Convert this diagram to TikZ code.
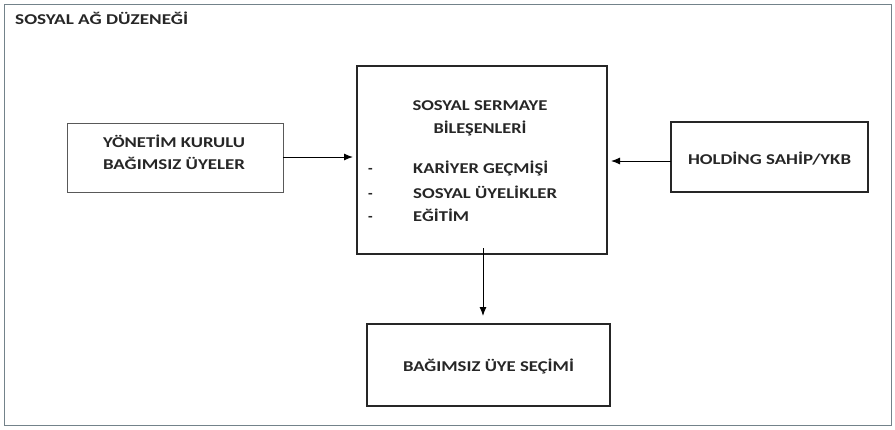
\documentclass[tikz,border=0pt]{standalone}
\usepackage{graphicx}
\usepackage{fontspec}
\setmainfont{Carlito}
\usetikzlibrary{arrows.meta}
\newsavebox{\fitbox}
\newcommand{\fitw}[2]{\sbox{\fitbox}{#2}\pgfmathsetmacro\fitfac{#1/\the\wd\fitbox}\scalebox{\fitfac}[1]{\usebox{\fitbox}}}
\begin{document}
\begin{tikzpicture}[x=1pt,y=-1pt,
  lbl/.style={font=\bfseries\fontsize{15}{22.5}\selectfont, text=black!85, inner sep=0pt},
  box/.style={draw=black!85, line width=1.1pt},
  arr/.style={line width=1pt, -{Latex[length=9pt,width=7pt]}}]
\useasboundingbox (0,0) rectangle (895,429);
\draw[draw=black!55!cyan!40!gray, line width=0.8pt] (4,4) rectangle (891,425);
\node[lbl, anchor=base west] (title) at (15,24.5) {\fitw{173}{SOSYAL AĞ DÜZENEĞİ}};
% boxes
\draw[draw=black!65, line width=1pt] (67,123) rectangle (283,192);
\coordinate (lbE) at (283,157);
\node[lbl, align=center] (left) at (174,152.5) {\fitw{142}{YÖNETİM KURULU}\\\fitw{142}{BAĞIMSIZ ÜYELER}};
\draw[box, line width=1.4pt] (357,66) rectangle (607,254);
\coordinate (cW) at (357,157);
\coordinate (cE) at (607,161);
\coordinate (cS) at (483,254);
\node[lbl, align=center] (head) at (480,118.5) {\fitw{135}{SOSYAL SERMAYE}\\\fitw{93}{BİLEŞENLERİ}};
\node[lbl, anchor=base west] (d1) at (368,173.5) {-};
\node[lbl, anchor=base west] (d2) at (368,198.5) {-};
\node[lbl, anchor=base west] (d3) at (368,221.5) {-};
\node[lbl, anchor=base west] (i1) at (413,173.5) {\fitw{135}{KARİYER GEÇMİŞİ}};
\node[lbl, anchor=base west] (i2) at (413,198.5) {\fitw{144}{SOSYAL ÜYELİKLER}};
\node[lbl, anchor=base west] (i3) at (413,221.5) {\fitw{56}{EĞİTİM}};
\draw[box] (671,122) rectangle (868,192);
\coordinate (rW) at (671,161);
\node[lbl] (right) at (769.5,159) {\fitw{163}{HOLDİNG SAHİP/YKB}};
\draw[box, line width=1.4pt] (367,324) rectangle (610,406);
\coordinate (bN) at (483,316);
\node[lbl] (bottom) at (488.5,366) {\fitw{171}{BAĞIMSIZ ÜYE SEÇİMİ}};
% arrows
\draw[arr] (lbE) -- ([xshift=-4pt]cW);
\draw[arr] (rW) -- ([xshift=4pt]cE);
\draw[arr] ([yshift=6pt]cS) -- (bN);
\end{tikzpicture}
\end{document}
